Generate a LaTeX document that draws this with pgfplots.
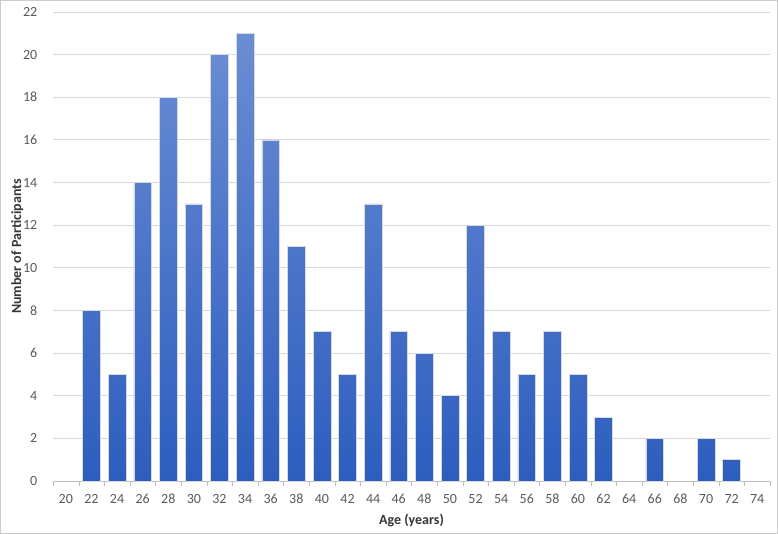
\documentclass[border=0pt]{standalone}
\usepackage{fontspec}
\setmainfont{Carlito}
\usepackage{pgfplots}
\pgfplotsset{compat=1.18}
\definecolor{tickgrey}{HTML}{595959}
\definecolor{gridgrey}{HTML}{D9D9D9}
\definecolor{axisgrey}{HTML}{BFBFBF}
\definecolor{bartop}{HTML}{6B8DD4}
\definecolor{barbot}{HTML}{2D5DBE}
\begin{document}
\begin{tikzpicture}
\begin{axis}[
  scale only axis,
  width=537.75pt, height=351.75pt,
  xmin=19, xmax=75, ymin=0, ymax=22,
  xtick={20,22,...,74},
  minor xtick={19,21,...,75},
  major x tick style={draw=none},
  minor x tick style={axisgrey},
  minor tick length=4pt,
  tick align=outside,
  ytick={0,2,...,22},
  major y tick style={draw=none},
  ymajorgrids, grid style={gridgrey, line width=0.6pt},
  axis x line*=bottom, axis y line*=left,
  x axis line style={axisgrey, line width=0.6pt, -},
  y axis line style={draw=none},
  ticklabel style={font=\fontsize{10.5}{12}\selectfont, text=tickgrey},
  /pgf/number format/assume math mode=true,
  xticklabel style={yshift=-2pt},
  yticklabel style={xshift=-4pt},
  xlabel={\textbf{Age (years)}},
  ylabel={\textbf{Number of Participants}},
  label style={font=\fontsize{10.5}{12}\selectfont, text=tickgrey!60!black},
  xlabel style={yshift=-1pt},
  ylabel style={yshift=-7pt},
  clip=false,
]
\addplot[ybar, bar width=13.3pt, draw=black!15, line width=0.4pt,
  top color=bartop, bottom color=barbot] coordinates {
(22,8) (24,5) (26,14) (28,18) (30,13) (32,20) (34,21) (36,16) (38,11)
(40,7) (42,5) (44,13) (46,7) (48,6) (50,4) (52,12) (54,7) (56,5)
(58,7) (60,5) (62,3) (66,2) (70,2) (72,1)
};
\end{axis}
\draw[black!20, line width=0.75pt] (-39.4pt,-39.4pt) rectangle (543.35pt,360.35pt);
\end{tikzpicture}
\end{document}
